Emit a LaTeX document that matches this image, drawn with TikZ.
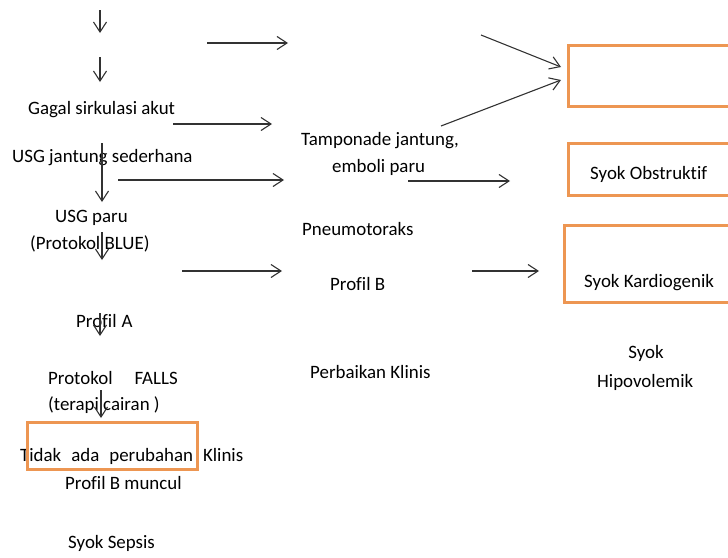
\documentclass[tikz,border=0pt]{standalone}
\usepackage{fontspec}
\setmainfont[Ligatures={NoCommon}]{Carlito}
\usetikzlibrary{arrows.meta}
\definecolor{boxorange}{RGB}{237,150,82}
\definecolor{arrowgray}{RGB}{50,50,50}
\begin{document}
\begin{tikzpicture}[x=1pt,y=-1pt,
  lbl/.style={anchor=mid west,inner sep=0pt,font=\fontsize{18.9}{22}\selectfont},
  conn/.style={draw=arrowgray,line width=1.1pt,-{Straight Barb[length=10pt,width=13pt,line width=1.1pt]}},
  obox/.style={draw=boxorange,line width=3pt}]
\useasboundingbox (0,0) rectangle (728,557);
\clip (0,0) rectangle (728,557);
\fill[white] (0,0) rectangle (728,557);

% left column texts
\node[lbl] (gagal) at (28,112) {Gagal sirkulasi akut};
\node[lbl] (usgj) at (12,160) {USG jantung sederhana};
\node[lbl] (usgp) at (55,220) {USG paru};
\node[lbl] (blue) at (30,247) {(Protokol BLUE)};
\node[lbl] (pa) at (76,325) {Profil\hspace{5pt}A};
\node[lbl] (falls) at (48,382) {Protokol\hspace{22pt}FALLS};
\node[lbl] (terapi) at (48,408) {(terapi cairan )};
\node[lbl] (tidak) at (20,459) {Tidak\hspace{10pt}ada\hspace{10pt}perubahan\hspace{10pt}Klinis};
\node[lbl] (pbm) at (65,487) {Profil B muncul};
\node[lbl] (sepsis) at (68,546) {Syok Sepsis};

% middle column texts
\node[lbl] (tamp) at (301,143) {Tamponade jantung,};
\node[lbl] (emboli) at (332,170) {emboli paru};
\node[lbl] (pneumo) at (302,233) {Pneumotoraks};
\node[lbl] (pb) at (330,288) {Profil B};
\node[lbl] (perb) at (310,376) {Perbaikan Klinis};

% right column texts
\node[lbl] (obst) at (590,177) {Syok Obstruktif};
\node[lbl] (kard) at (584,285) {Syok Kardiogenik};
\node[lbl,anchor=mid] (syok) at (646,356) {Syok};
\node[lbl] (hipo) at (597,385) {Hipovolemik};

% orange boxes
\draw[obox] (568,45) rectangle (740,106);
\draw[obox] (568,143) rectangle (740,195);
\draw[obox] (564,225) rectangle (740,302);
\draw[obox] (27,422) rectangle (197,469);

% connector end points
\coordinate (a1s) at (100,10);  \coordinate (a1e) at (100,33);
\coordinate (a2s) at (100,57);  \coordinate (a2e) at (100,82);
\coordinate (a3s) at (207,43);  \coordinate (a3e) at (288,43);
\coordinate (a4s) at (173,124); \coordinate (a4e) at (272,124);
\coordinate (a5s) at (102,143); \coordinate (a5e) at (102,202);
\coordinate (a6s) at (118,180); \coordinate (a6e) at (284,180);
\coordinate (a7s) at (102,232); \coordinate (a7e) at (102,260);
\coordinate (a8s) at (182,271); \coordinate (a8e) at (282,271);
\coordinate (a9s) at (100,313); \coordinate (a9e) at (100,336);
\coordinate (a10s) at (101,390); \coordinate (a10e) at (101,418);
\coordinate (a11s) at (408,181); \coordinate (a11e) at (510,181);
\coordinate (a12s) at (472,271); \coordinate (a12e) at (539,271);
\coordinate (a13s) at (481,35);  \coordinate (a13e) at (561,67);
\coordinate (a14s) at (441,126); \coordinate (a14e) at (561,80);

\foreach \i in {1,...,14} {
  \draw[conn] (a\i s) -- (a\i e);
}
\end{tikzpicture}
\end{document}
